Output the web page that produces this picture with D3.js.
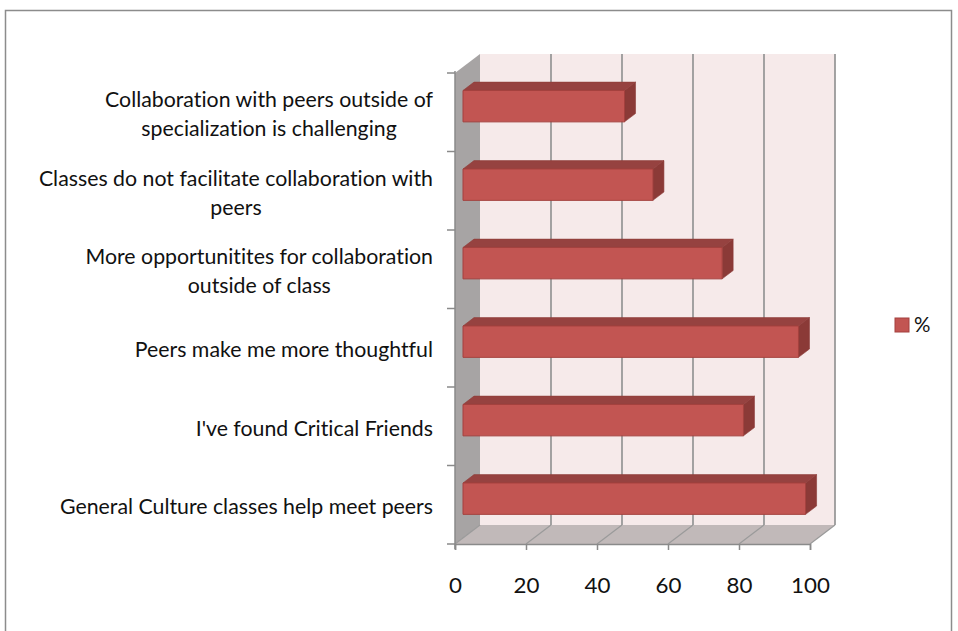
<!DOCTYPE html>
<html>
<head>
<meta charset="utf-8">
<script src="https://cdn.jsdelivr.net/npm/d3@7/dist/d3.min.js"></script>
<style>
  html, body { margin: 0; padding: 0; background: #ffffff; }
  svg { display: block; }
  text { font-family: Lato, "Open Sans", "Liberation Sans", sans-serif; fill: #111;
         font-variant-ligatures: none; font-feature-settings: "liga" 0, "clig" 0; }
</style>
</head>
<body>
<svg id="chart" width="958" height="631"></svg>
<script>
// Survey answers, listed top to bottom as they appear on the category axis
const categories = [
  "Collaboration with peers outside of\nspecialization is challenging",
  "Classes do not facilitate collaboration with\npeers",
  "More opportunitites for collaboration\noutside of class",
  "Peers make me more thoughtful",
  "I've found Critical Friends",
  "General Culture classes help meet peers"
];
const percentValues = [45.5, 53.5, 73, 94.5, 79, 96.5];
const xTickValues = [0, 20, 40, 60, 80, 100];
const seriesName = "%";

const svg = d3.select("#chart");

// Front plane of the 3D box and its depth vector
const x = d3.scaleLinear().domain([0, 100]).range([455, 810]);
const y = d3.scaleBand().domain(categories).range([73, 544])
  .paddingInner(0.6).paddingOuter(0.3);
const depth = { dx: 25, dy: -19 };
const barDepth = [0.32, 0.76];           // bar front/back positions within the box depth
const proj = (px, py, d) => [px + d * depth.dx, py + d * depth.dy];

const x0 = x(0), x1 = x(100);
const yTop = y.range()[0], yBot = y.range()[1];

// Outer chart border
svg.append("rect")
  .attr("x", 5.5).attr("y", 10.5).attr("width", 946).attr("height", 640)
  .attr("fill", "#fff").attr("stroke", "#8c8c8c").attr("stroke-width", 1.5);

// Back wall
const bw0 = proj(x0, yTop, 1), bw1 = proj(x1, yBot, 1);
svg.append("rect")
  .attr("x", bw0[0]).attr("y", bw0[1])
  .attr("width", bw1[0] - bw0[0]).attr("height", bw1[1] - bw0[1])
  .attr("fill", "#f6eaea");

// Side wall
const side = [proj(x0, yTop, 0), proj(x0, yTop, 1), proj(x0, yBot, 1), proj(x0, yBot, 0)];
svg.append("polygon").attr("points", side.map(p => p.join(",")).join(" "))
  .attr("fill", "#a7a4a4");

// Floor
const floor = [proj(x0, yBot, 0), proj(x1, yBot, 0), proj(x1, yBot, 1), proj(x0, yBot, 1)];
svg.append("polygon").attr("points", floor.map(p => p.join(",")).join(" "))
  .attr("fill", "#c1b9b9");

// Vertical gridlines on the back wall and their continuation across the floor
const grid = svg.append("g").attr("stroke", "#9a9a9a").attr("stroke-width", 1.8);
xTickValues.forEach(v => {
  const a = proj(x(v), yTop, 1), b = proj(x(v), yBot, 1), c = proj(x(v), yBot, 0);
  if (v > 0) grid.append("line").attr("x1", a[0]).attr("y1", a[1]).attr("x2", b[0]).attr("y2", b[1]);
  grid.append("line").attr("x1", b[0]).attr("y1", b[1]).attr("x2", c[0]).attr("y2", c[1])
    .attr("stroke-width", 1.2);
});

// Bars: side face, top face, then front face
const bars = svg.append("g");
categories.forEach((cat, i) => {
  const v = percentValues[i];
  const yt = y(cat), yb = y(cat) + y.bandwidth();
  const [fa, fb] = barDepth;
  const ftl = proj(x(0), yt, fa), ftr = proj(x(v), yt, fa), fbr = proj(x(v), yb, fa);
  const btl = proj(x(0), yt, fb), btr = proj(x(v), yt, fb), bbr = proj(x(v), yb, fb);
  const fbl = proj(x(0), yb, fa);
  const pts = a => a.map(p => p.join(",")).join(" ");
  bars.append("polygon").attr("points", pts([ftr, btr, bbr, fbr]))
    .attr("fill", "#8b3a37").attr("stroke", "#8b3a37").attr("stroke-width", 0.6);
  bars.append("polygon").attr("points", pts([ftl, btl, btr, ftr]))
    .attr("fill", "#964240").attr("stroke", "#8e3c39").attr("stroke-width", 0.6);
  bars.append("polygon").attr("points", pts([ftl, ftr, fbr, fbl]))
    .attr("fill", "#c25552").attr("stroke", "#a4413e").attr("stroke-width", 1);
});

// Category axis line with ticks at band boundaries
const axisColor = "#8a8a8a";
const yAxis = svg.append("g").attr("stroke", axisColor).attr("stroke-width", 1.5);
yAxis.append("line").attr("x1", x0).attr("x2", x0).attr("y1", yTop - 2).attr("y2", yBot + 5);
d3.range(categories.length + 1).forEach(k => {
  const ty = yTop + k * y.step();
  yAxis.append("line").attr("x1", x0 - 8).attr("x2", x0).attr("y1", ty).attr("y2", ty);
});

// Value axis along the front edge of the floor
const xAxis = svg.append("g").attr("transform", `translate(0,${yBot})`)
  .call(d3.axisBottom(x).tickValues(xTickValues).tickSize(6).tickPadding(28));
xAxis.select(".domain").attr("stroke", axisColor).attr("stroke-width", 1.5);
xAxis.selectAll(".tick line").attr("stroke", axisColor).attr("stroke-width", 1.5);
xAxis.selectAll(".tick text").attr("font-size", 21.5).attr("font-family", null).attr("fill", "#111");

// Category labels: lines centred within a right-aligned block
const labelSize = 20.5, lineGap = 29, labelRight = 433;
const labels = svg.append("g").attr("font-size", labelSize);
// squeeze factor so the label face runs as narrow as the original typeface
const probe = labels.append("text").text(categories[5]);
const squeeze = 373 / probe.node().getComputedTextLength();
probe.remove();
categories.forEach(cat => {
  const lines = cat.split("\n");
  const cy = y(cat) + y.bandwidth() / 2;
  const widths = lines.map(l => {
    const t = labels.append("text").text(l);
    const w = t.node().getComputedTextLength() * squeeze;
    t.remove();
    return w;
  });
  const blockW = d3.max(widths);
  const cx = labelRight - blockW / 2;
  lines.forEach((l, j) => {
    labels.append("text")
      .attr("x", cx).attr("y", cy + 9.5 + (j - (lines.length - 1) / 2) * lineGap)
      .attr("text-anchor", "middle")
      .attr("textLength", widths[j]).attr("lengthAdjust", "spacingAndGlyphs")
      .text(l);
  });
});

// squeeze tick labels the same way
xAxis.selectAll(".tick text").each(function () {
  const w = this.getComputedTextLength() * squeeze;
  d3.select(this).attr("textLength", w).attr("lengthAdjust", "spacingAndGlyphs");
});

// Legend
const legend = svg.append("g").attr("transform", "translate(895,318)");
legend.append("rect").attr("width", 14).attr("height", 14)
  .attr("fill", "#c25552").attr("stroke", "#a4413e").attr("stroke-width", 1);
legend.append("text").attr("x", 19).attr("y", 14).attr("font-size", 20.5).text(seriesName);
</script>
</body>
</html>
